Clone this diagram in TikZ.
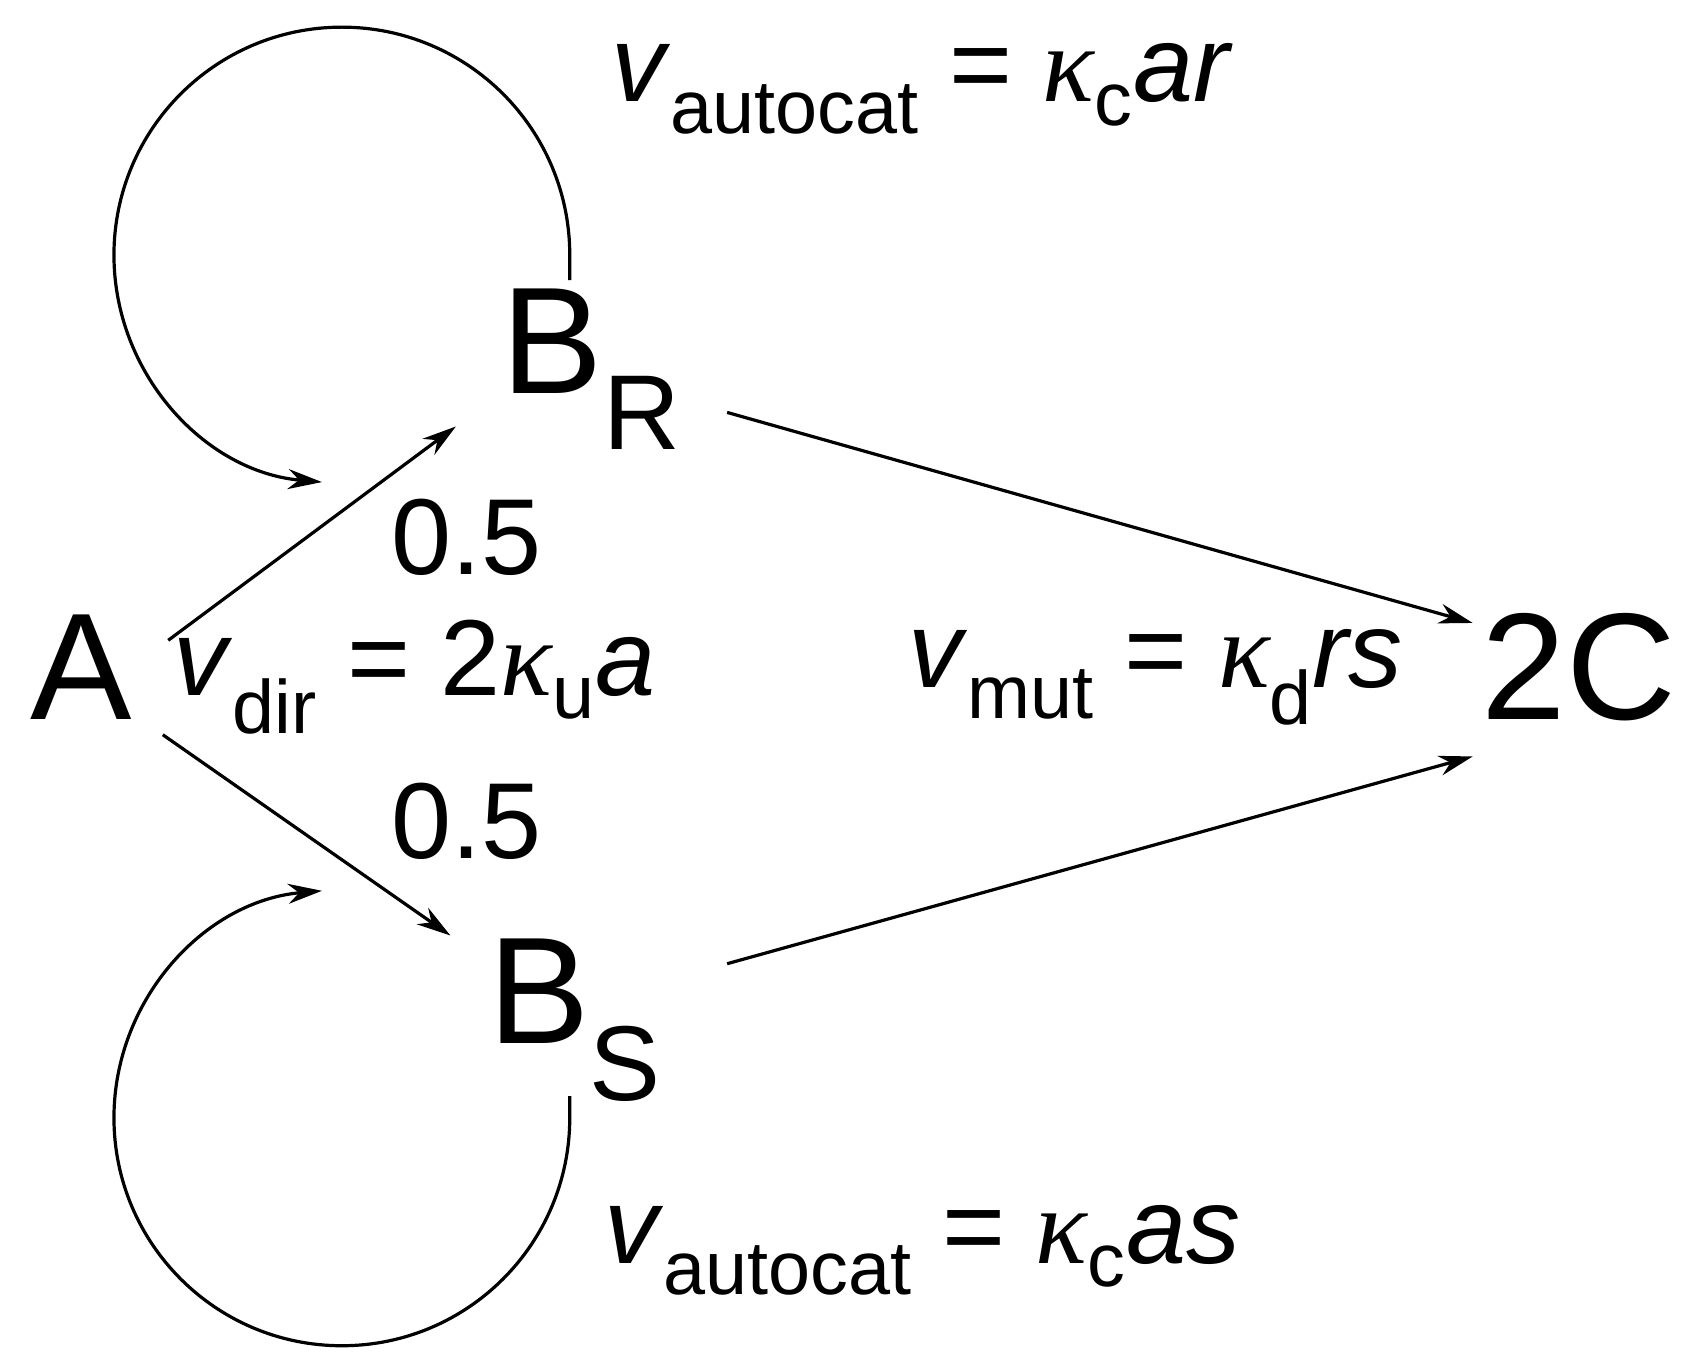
\documentclass[tikz,border=0pt]{standalone}
\usepackage{fontspec}
\setmainfont{Liberation Sans}
\newfontfamily\kapfont{Liberation Serif}
\newcommand{\kap}{{\kapfont\itshape κ}}
\usetikzlibrary{arrows.meta}
\begin{document}
\begin{tikzpicture}[x=0.5425pt,y=-0.5425pt,
  ln/.style={line width=1.6pt},
  ar/.style={ln,-{Stealth[length=17pt,width=10pt]}},
  big/.style={font=\fontsize{76}{80}\selectfont,inner sep=0},
  lab/.style={font=\fontsize{54}{60}\selectfont,inner sep=0}]
\useasboundingbox (0,0) rectangle (1560,1248);
\node[big] (A) at (75,615) {A};
\node[big] (BR) at (545,340) {B\textsubscript{R}};
\node[big] (BS) at (530,940) {B\textsubscript{S}};
\node[big] (C) at (1455,615) {2C};
\node[lab] (l1) at (850,82) {\textit{v}\textsubscript{autocat} = \kap\textsubscript{c}\textit{ar}};
\node[lab] (l2) at (850,1152) {\textit{v}\textsubscript{autocat} = \kap\textsubscript{c}\textit{as}};
\node[lab] (l3) at (382,624) {\textit{v}\textsubscript{dir} = 2\kap\textsubscript{u}\textit{a}};
\node[lab] (l4) at (1065,624) {\textit{v}\textsubscript{mut} = \kap\textsubscript{d}\textit{rs}};
\node[lab] (h1) at (430,495) {0.5};
\node[lab] (h2) at (430,757) {0.5};
\coordinate (a1) at (155,590); \coordinate (b1) at (420,393);
\coordinate (a2) at (150,677); \coordinate (b2) at (415,862);
\coordinate (r1) at (670,380); \coordinate (c1) at (1357,574);
\coordinate (s1) at (670,888); \coordinate (c2) at (1357,697);
\draw[ar] (a1) -- (b1);
\draw[ar] (a2) -- (b2);
\draw[ar] (r1) -- (c1);
\draw[ar] (s1) -- (c2);
\coordinate (t0) at (525,258); \coordinate (u0) at (525,1010);
\draw[ar] (t0) -- (525,235) arc[start angle=0,end angle=-265,radius=210];
\draw[ar] (u0) -- (525,1030) arc[start angle=0,end angle=265,radius=210];
\end{tikzpicture}
\end{document}
